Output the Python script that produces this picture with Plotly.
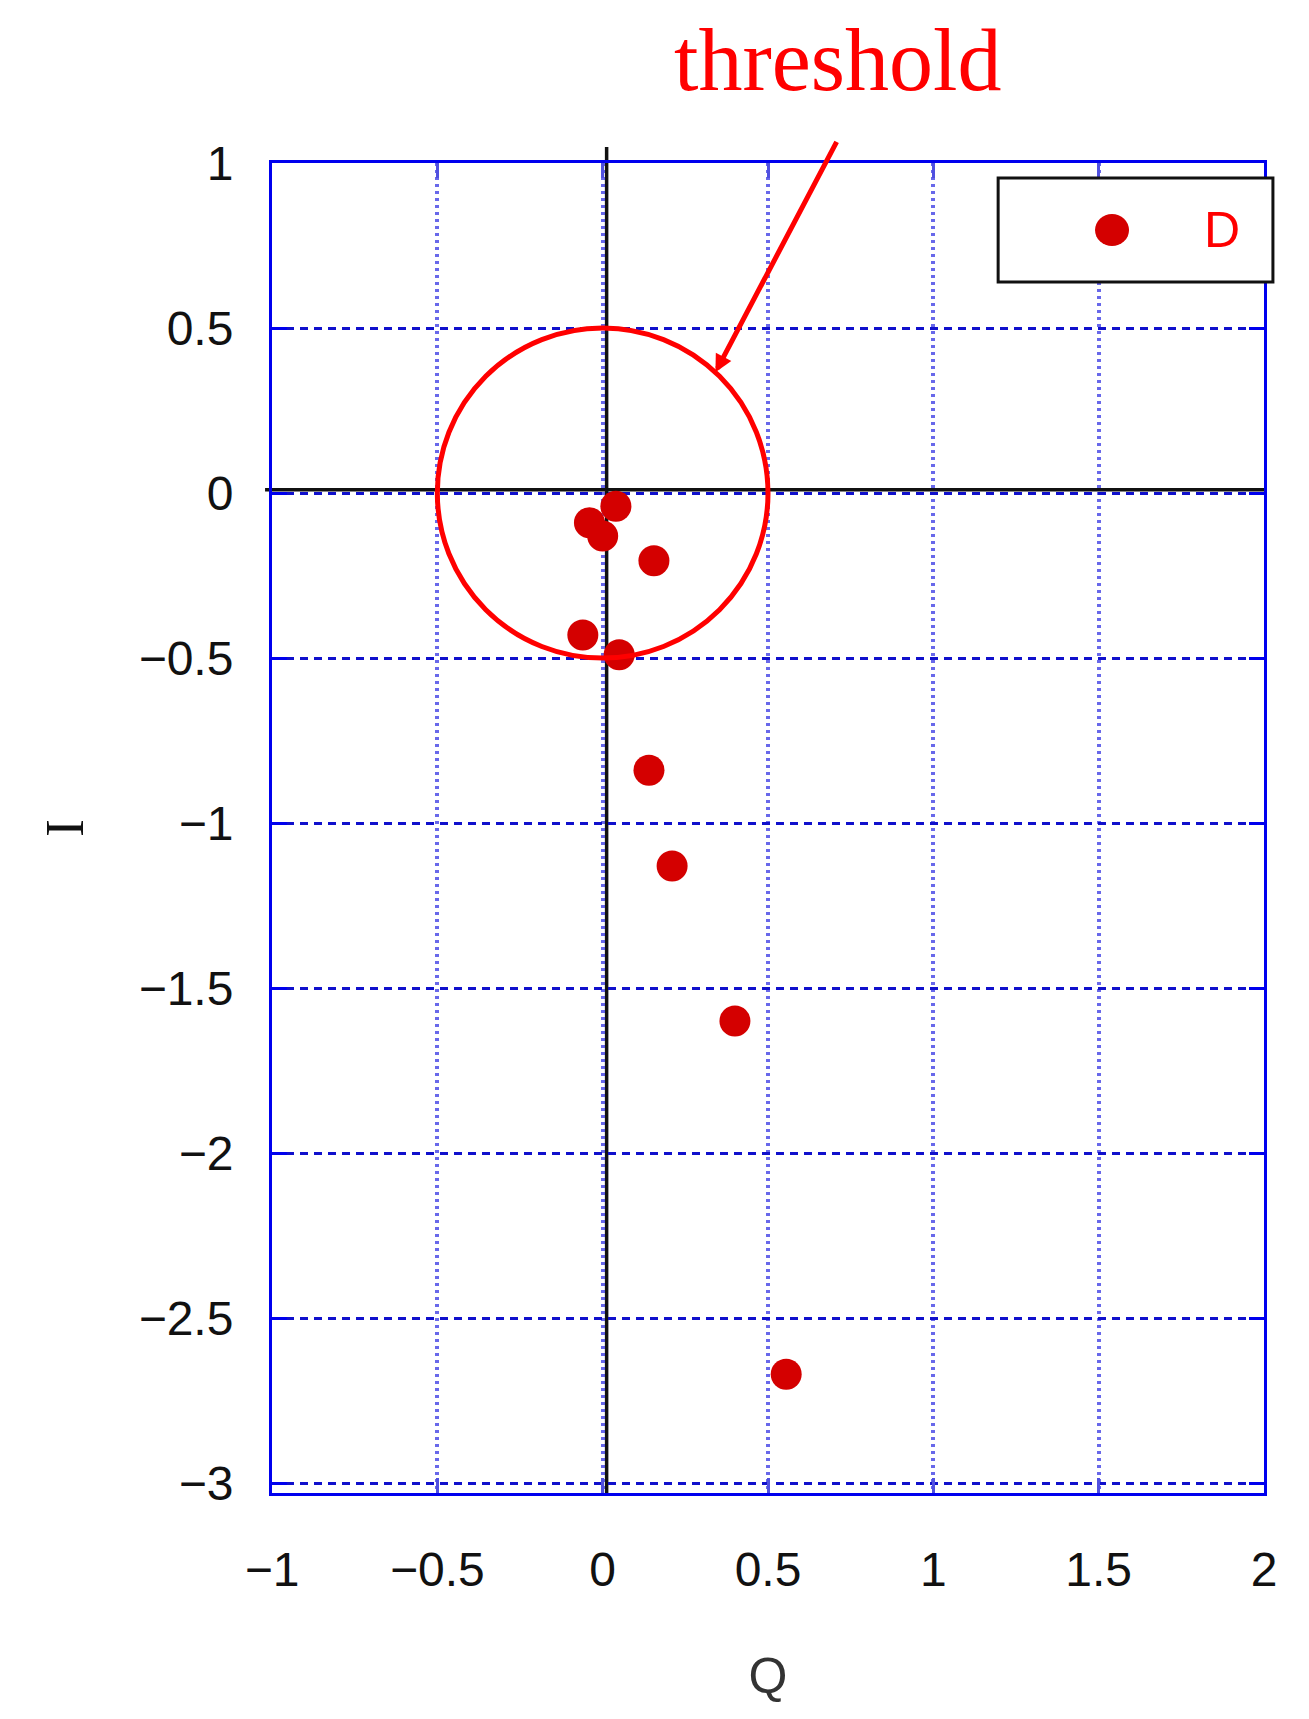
import math
import plotly.graph_objects as go

# ---- data ----
Q = [0.04, -0.04, 0.0, 0.155, -0.06, 0.05, 0.14, 0.21, 0.40, 0.555]
I = [-0.04, -0.09, -0.13, -0.205, -0.43, -0.49, -0.84, -1.13, -1.60, -2.67]
series_name = "D"
threshold = 0.5
arrow_angle_deg = 47.0
x_ticks = [-1, -0.5, 0, 0.5, 1, 1.5, 2]
x_ticktext = ["\u22121", "\u22120.5", "0", "0.5", "1", "1.5", "2"]
y_ticks = [1, 0.5, 0, -0.5, -1, -1.5, -2, -2.5, -3]
y_ticktext = ["1", "0.5", "0", "\u22120.5", "\u22121", "\u22121.5", "\u22122", "\u22122.5", "\u22123"]

NARROW = "Liberation Sans, Arial, sans-serif"
BLUE = "#0000ee"
MK = "#d40000"

fig = go.Figure()
fig.add_trace(go.Scatter(
    x=Q, y=I, mode="markers", name=series_name, showlegend=False,
    marker=dict(color=MK, size=31, symbol="circle", line=dict(width=0)),
))

tip_x = threshold * math.cos(math.radians(arrow_angle_deg))
tip_y = threshold * math.sin(math.radians(arrow_angle_deg))

shapes = [
    # threshold circle
    dict(type="circle", xref="x", yref="y", x0=-threshold, y0=-threshold,
         x1=threshold, y1=threshold, line=dict(color="#ff0000", width=5), layer="above"),
    # black axes through origin
    dict(type="line", xref="x", yref="paper", x0=0.012, x1=0.012, y0=0, y1=1.012,
         line=dict(color="#111111", width=3.5), layer="below"),
    dict(type="line", xref="paper", yref="y", x0=-0.007, x1=1, y0=0.01, y1=0.01,
         line=dict(color="#111111", width=3.5), layer="below"),
    # legend box
    dict(type="rect", xref="paper", yref="paper", x0=0.732, x1=1.009, y0=0.9105, y1=0.9887,
         line=dict(color="#111111", width=3), fillcolor="white", layer="above"),
    # legend marker
    dict(type="circle", xref="paper", yref="paper", xsizemode="pixel", ysizemode="pixel",
         xanchor=0.8468, yanchor=0.9496, x0=-17, x1=17, y0=-16, y1=16,
         fillcolor=MK, line=dict(width=0), layer="above"),
]

annotations = [
    dict(xref="paper", yref="paper", x=0.9577, y=0.9496, text=series_name, showarrow=False,
         font=dict(family=NARROW, size=50, color="#ff0000"), xanchor="center", yanchor="middle"),
    dict(xref="x", yref="y", x=tip_x, y=tip_y, text="", showarrow=True,
         ax=122, ay=-232, arrowhead=2, arrowsize=0.7, arrowwidth=5, arrowcolor="#ff0000"),
    dict(xref="paper", yref="paper", x=(838 - 272) / 992, y=(1493 - 60) / 1330, text="threshold",
         showarrow=False, xanchor="center", yanchor="middle",
         font=dict(family="Liberation Serif, Times New Roman, serif", size=88, color="#ff0000")),
]

# the page body adds an 8px margin; size the figure to fit the 1309x1719 window
fig.update_layout(
    width=1293, height=1703,
    margin=dict(l=264, r=37, t=155, b=218),
    paper_bgcolor="white", plot_bgcolor="white",
    shapes=shapes, annotations=annotations,
    showlegend=False,
)

fig.update_xaxes(
    range=[-1, 2], tickvals=x_ticks, ticktext=x_ticktext, automargin=False,
    showline=True, mirror="ticks", linecolor=BLUE, linewidth=3,
    ticks="inside", ticklen=15, tickwidth=3, tickcolor="#5050e0",
    showgrid=True, gridcolor="rgba(40,40,225,0.7)", gridwidth=3.5, griddash="3px,4px",
    zeroline=False,
    tickfont=dict(family=NARROW, size=48, color="#111111"),
    ticklabelstandoff=32,
    title=dict(text="Q", font=dict(family=NARROW, size=50, color="#333333"), standoff=64),
)
fig.update_yaxes(
    range=[-3.03, 1], tickvals=y_ticks, ticktext=y_ticktext, automargin=False,
    showline=True, mirror="ticks", linecolor=BLUE, linewidth=3,
    ticks="inside", ticklen=15, tickwidth=3, tickcolor=BLUE,
    showgrid=True, gridcolor="#1010cc", gridwidth=2.5, griddash="8px,6px",
    zeroline=False,
    tickfont=dict(family=NARROW, size=48, color="#111111"),
    ticklabelstandoff=26,
    title=dict(text="I", font=dict(family="Liberation Serif, serif", size=54, color="#111111"), standoff=38),
)

fig.write_html("out.html")
